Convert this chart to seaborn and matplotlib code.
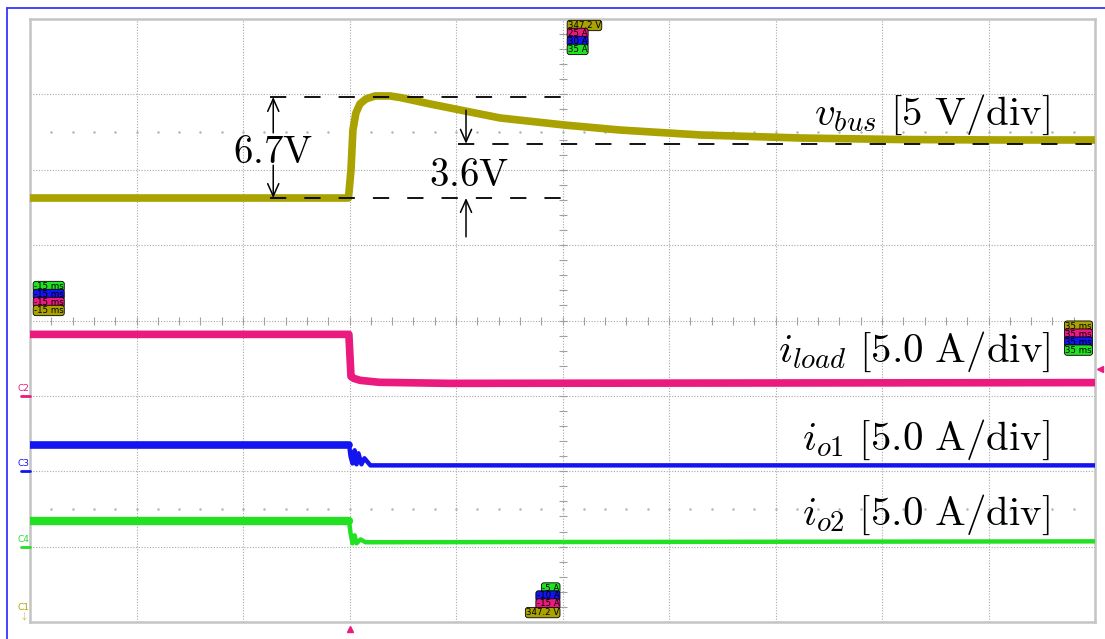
import numpy as np
import matplotlib
matplotlib.use("Agg")
import matplotlib.pyplot as plt
import seaborn as sns
from matplotlib.lines import Line2D

# ---- time base: 5 ms/div over 10 divisions ----
t_start, t_end = -15.0, 35.0

# ---- v_bus deviation from its pre-step level (V), 5 V/div ----
vbus_t = [-15.0, -0.05, 0.07, 0.16, 0.30, 0.49, 0.77, 1.2, 1.9, 2.37, 3.78,
          5.19, 7.07, 10.1, 12.7, 16.5, 21.2, 25.8, 30.5, 35.0]
vbus_v = [0.0, 0.0, 1.86, 4.5, 5.64, 6.24, 6.57, 6.77, 6.77, 6.67, 6.24,
          5.84, 5.31, 4.84, 4.51, 4.18, 3.98, 3.88, 3.85, 3.85]
vbus_overshoot = 6.7   # V, peak above initial level
vbus_settled = 3.6     # V, final level above initial level

# ---- load current (A), 5.0 A/div ----
iload_t = [-15.0, -0.03, 0.07, 0.2, 0.5, 1.4, 4.7, 35.0]
iload_a = [4.08, 4.08, 1.29, 1.16, 1.03, 0.90, 0.83, 0.88]

# ---- converter output currents (A), 5.0 A/div ----
io1_t = [-15.0, -0.02, 0.05, 0.14, 0.24, 0.33, 0.42, 0.56, 0.70, 0.98, 35.0]
io1_a = [1.75, 1.75, 0.99, 0.52, 1.39, 0.46, 1.19, 0.46, 0.86, 0.39, 0.39]

io2_t = [-15.0, -0.02, 0.05, 0.14, 0.24, 0.33, 0.52, 0.75, 35.0]
io2_a = [1.68, 1.68, 0.88, 0.22, 0.75, 0.22, 0.48, 0.29, 0.35]

# ---- readout boxes ----
top_labels = ["347.2 V", "25 A", "30 A", "35 A"]
bottom_labels = ["-5 A", "-10 A", "-15 A", "347.2 V"]
left_labels = ["-15 ms", "-15 ms", "-15 ms", "-15 ms"]
right_labels = ["35 ms", "35 ms", "35 ms", "35 ms"]

# ---- channel colours ----
c_vbus = "#a9a200"
c_iload = "#ea1a7f"
c_io1 = "#1414f0"
c_io2 = "#22e022"

# screen placement (divisions from bottom) and channel sensitivities
vbus_ref_div = 5.625
iload_gnd, io1_gnd, io2_gnd = 3.0, 2.0, 1.0
v_per_div, a_per_div = 5.0, 5.0

sns.set_style("white")
plt.rcParams["mathtext.fontset"] = "cm"
plt.rcParams["font.family"] = ["DejaVu Sans"]

fig = plt.figure(figsize=(11.05, 6.39), dpi=100)
ax = fig.add_axes([30 / 1105, 17 / 639, 1065 / 1105, 603 / 639])
ax.set_xlim(t_start, t_end)
ax.set_ylim(0, 8)

# graticule
grid_kw = dict(color="#a8a8a8", lw=0.8, ls=(0, (1, 1.5)), zorder=1)
for xv in np.arange(t_start, t_end + 0.1, 5.0):
    ax.axvline(xv, **grid_kw)
for yv in range(1, 8):
    ax.axhline(yv, **grid_kw)
# minor ticks on the centre axes
ax.plot(np.full(41, 10.0), np.arange(0, 8.01, 0.2), ls="none", marker="_",
        ms=6, mew=0.8, color="#a0a0a0", zorder=1)
ax.plot(np.arange(t_start, t_end + 0.01, 1.0), np.full(51, 4.0), ls="none",
        marker="|", ms=6, mew=0.8, color="#a0a0a0", zorder=1)
# half-division dot rows
for yv in (1.5, 6.5):
    ax.plot(np.arange(t_start + 1, t_end, 1.0), np.full(49, yv), ls="none",
            marker=".", ms=1.5, color="#b0b0b0", zorder=1)

for s in ax.spines.values():
    s.set_color("#c4c4c4")
    s.set_linewidth(1.8)
ax.set_xticks([])
ax.set_yticks([])

# traces in screen divisions
vbus_div = [vbus_ref_div + v / v_per_div for v in vbus_v]
iload_div = [iload_gnd + a / a_per_div for a in iload_a]
io1_div = [io1_gnd + a / a_per_div for a in io1_a]
io2_div = [io2_gnd + a / a_per_div for a in io2_a]

line_kw = dict(ax=ax, estimator=None, sort=False, legend=False)
sns.lineplot(x=vbus_t, y=vbus_div, color=c_vbus, lw=5.5, zorder=3, **line_kw)
sns.lineplot(x=iload_t, y=iload_div, color=c_iload, lw=5.5, zorder=3, **line_kw)
sns.lineplot(x=io1_t, y=io1_div, color=c_io1, lw=3.2, zorder=3, **line_kw)
sns.lineplot(x=io1_t[:2], y=io1_div[:2], color=c_io1, lw=5.5, zorder=3, **line_kw)
sns.lineplot(x=io2_t, y=io2_div, color=c_io2, lw=3.2, zorder=3, **line_kw)
sns.lineplot(x=io2_t[:2], y=io2_div[:2], color=c_io2, lw=6.0, zorder=3, **line_kw)

# overshoot / settling annotations
y_base = vbus_ref_div
y_peak = vbus_ref_div + vbus_overshoot / v_per_div
y_set = vbus_ref_div + vbus_settled / v_per_div
dash_kw = dict(color="black", lw=1.3, ls=(0, (9, 10)), zorder=4)
ax.plot([-3.73, 10.1], [y_peak, y_peak], **dash_kw)
ax.plot([-3.73, 10.1], [y_base, y_base], **dash_kw)
ax.plot([5.09, 35.0], [y_set, y_set], **dash_kw)

arr_kw = dict(arrowstyle="->,head_length=0.45,head_width=0.2", color="black",
              lw=1.1, mutation_scale=20, shrinkA=0, shrinkB=0)
ax.annotate("", xy=(-3.58, y_peak), xytext=(-3.58, 6.49), arrowprops=arr_kw, zorder=4)
ax.annotate("", xy=(-3.58, y_base), xytext=(-3.58, 6.06), arrowprops=arr_kw, zorder=4)
ax.annotate("", xy=(5.47, y_set), xytext=(5.47, 6.79), arrowprops=arr_kw, zorder=4)
ax.annotate("", xy=(5.47, y_base), xytext=(5.47, 5.11), arrowprops=arr_kw, zorder=4)

big = dict(fontsize=28, color="black", zorder=5)
ax.text(-3.57, 6.09, r"$6.7\mathrm{V}$", ha="center", va="baseline", **big)
ax.text(5.61, 5.78, r"$3.6\mathrm{V}$", ha="center", va="baseline", **big)

lab = dict(fontsize=29.5, color="black", zorder=5, ha="right", va="baseline")
ax.text(32.89, 6.594, r"$v_{bus}\ [5\ \mathrm{V/div}]$", **lab)
ax.text(32.89, 3.449, r"$i_{load}\ [5.0\ \mathrm{A/div}]$", **lab)
ax.text(32.89, 2.282, r"$i_{o1}\ [5.0\ \mathrm{A/div}]$", **lab)
ax.text(32.89, 1.287, r"$i_{o2}\ [5.0\ \mathrm{A/div}]$", **lab)


def readout(x, y, text, color, ha):
    ax.text(x, y, text, ha=ha, va="center", fontsize=6.2, color="black",
            zorder=6, clip_on=False,
            bbox=dict(boxstyle="round,pad=0.08,rounding_size=0.3", fc=color,
                      ec="black", lw=0.6))


colors_top = [c_vbus, c_iload, c_io1, c_io2]
for lbl, col, yv in zip(top_labels, colors_top, [7.914, 7.808, 7.702, 7.596]):
    readout(10.25, yv, lbl, col, "left")
colors_bottom = [c_io2, c_io1, c_iload, c_vbus]
for lbl, col, yv in zip(bottom_labels, colors_bottom, [0.451, 0.345, 0.239, 0.125]):
    readout(9.85, yv, lbl, col, "right")
colors_left = [c_io2, c_io1, c_iload, c_vbus]
for lbl, col, yv in zip(left_labels, colors_left, [4.451, 4.345, 4.239, 4.133]):
    readout(-14.82, yv, lbl, col, "left")
colors_right = [c_vbus, c_iload, c_io1, c_io2]
for lbl, col, yv in zip(right_labels, colors_right, [3.925, 3.819, 3.713, 3.607]):
    readout(34.85, yv, lbl, col, "right")

# channel ground markers on the left edge
for name, col, yv in (("C2", c_iload, iload_gnd), ("C3", c_io1, io1_gnd),
                      ("C4", c_io2, io2_gnd)):
    ax.plot([-15.42, -15.0], [yv, yv], color=col, lw=2.0, clip_on=False, zorder=6)
    ax.text(-15.3, yv + 0.04, name, color=col, fontsize=6.5, ha="center",
            va="bottom", clip_on=False)
ax.text(-15.3, 0.0, "C1\n" + r"$\downarrow$", color=c_vbus, fontsize=6.5,
        ha="center", va="bottom", clip_on=False, linespacing=0.8)

# trigger position and trigger level markers
ax.plot([0.0], [-0.09], marker="^", ms=5, color=c_iload, clip_on=False, zorder=6)
ax.plot([35.25], [3.36], marker="<", ms=5, color=c_iload, clip_on=False, zorder=6)

# outer window frame
fig.add_artist(Line2D([7 / 1105, 7 / 1105], [0, 1 - 8 / 639], color="#3535ff", lw=1.3))
fig.add_artist(Line2D([7 / 1105, 1], [1 - 8 / 639, 1 - 8 / 639], color="#3535ff", lw=1.3))

fig.savefig("out.png", dpi=100)
